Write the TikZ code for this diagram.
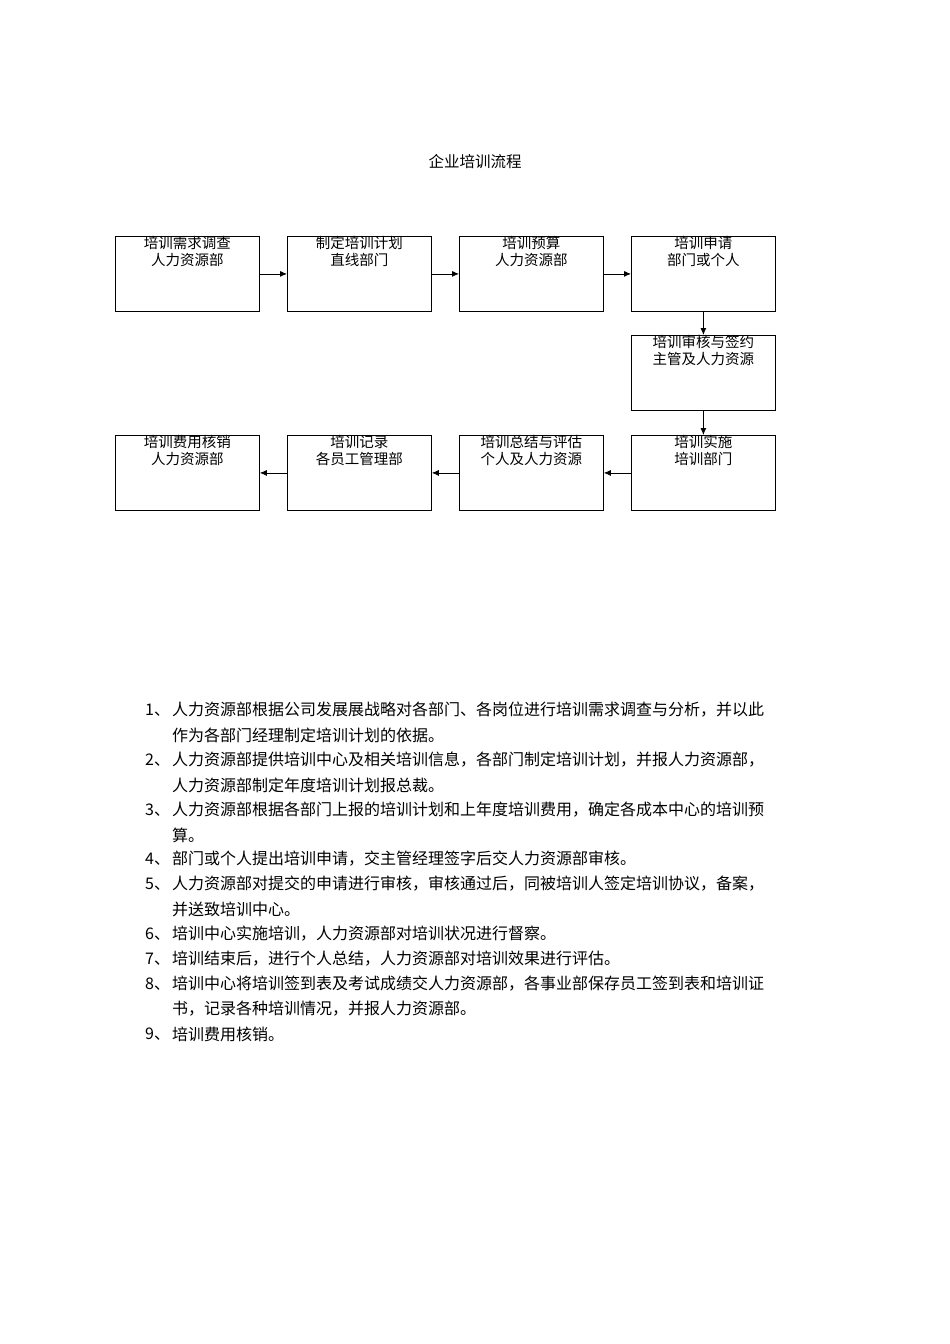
\documentclass[tikz,border=0pt]{standalone}
\usepackage{fontspec}
\setmainfont{Noto Sans CJK SC}
\usetikzlibrary{arrows.meta}
\begin{document}
\begin{tikzpicture}[x=1pt,y=-1pt,
 box/.style={draw,line width=0.8pt,minimum width=144pt,minimum height=75pt,anchor=north west,inner sep=0pt},
 lbl/.style={align=center,font=\fontsize{14.5}{17}\selectfont,anchor=north},
 arr/.style={-{Latex[length=7pt,width=6pt]},line width=0.8pt},
 li/.style={anchor=west,font=\fontsize{16}{18}\selectfont,inner sep=0pt}]
\useasboundingbox (0,0) rectangle (950,1344);
\node at (475,162) {\fontsize{15.5}{18}\selectfont 企业培训流程};
\foreach \n/\x/\y/\t in {a/115/236/{培训需求调查\\人力资源部},b/287/236/{制定培训计划\\直线部门},c/459/236/{培训预算\\人力资源部},d/631/236/{培训申请\\部门或个人},e/631/335/{培训审核与签约\\主管及人力资源},f/631/435/{培训实施\\培训部门},g/459/435/{培训总结与评估\\个人及人力资源},h/287/435/{培训记录\\各员工管理部},i/115/435/{培训费用核销\\人力资源部}}{
 \node[box] (\n) at (\x,\y) {};
 \node[lbl] (\n t) at ([yshift=3pt]\n.north) {\t};
}
\draw[arr] (a) -- (b); \draw[arr] (b) -- (c); \draw[arr] (c) -- (d);
\draw[arr] (d) -- (e); \draw[arr] (e) -- (f);
\draw[arr] (f) -- (g); \draw[arr] (g) -- (h); \draw[arr] (h) -- (i);
\foreach \y/\num/\t in {
710/1、/人力资源部根据公司发展展战略对各部门、各岗位进行培训需求调查与分析，并以此,
735//作为各部门经理制定培训计划的依据。,
760/2、/人力资源部提供培训中心及相关培训信息，各部门制定培训计划，并报人力资源部，,
785//人力资源部制定年度培训计划报总裁。,
810/3、/人力资源部根据各部门上报的培训计划和上年度培训费用，确定各成本中心的培训预,
835//算。,
859/4、/部门或个人提出培训申请，交主管经理签字后交人力资源部审核。,
884/5、/人力资源部对提交的申请进行审核，审核通过后，同被培训人签定培训协议，备案，,
909//并送致培训中心。,
934/6、/培训中心实施培训，人力资源部对培训状况进行督察。,
959/7、/培训结束后，进行个人总结，人力资源部对培训效果进行评估。,
984/8、/培训中心将培训签到表及考试成绩交人力资源部，各事业部保存员工签到表和培训证,
1009//书，记录各种培训情况，并报人力资源部。,
1034/9、/培训费用核销。}{
 \node[li] (n\y) at (145,\y) {\num};
 \node[li] (t\y) at (172,\y) {\t};
}
\end{tikzpicture}
\end{document}
